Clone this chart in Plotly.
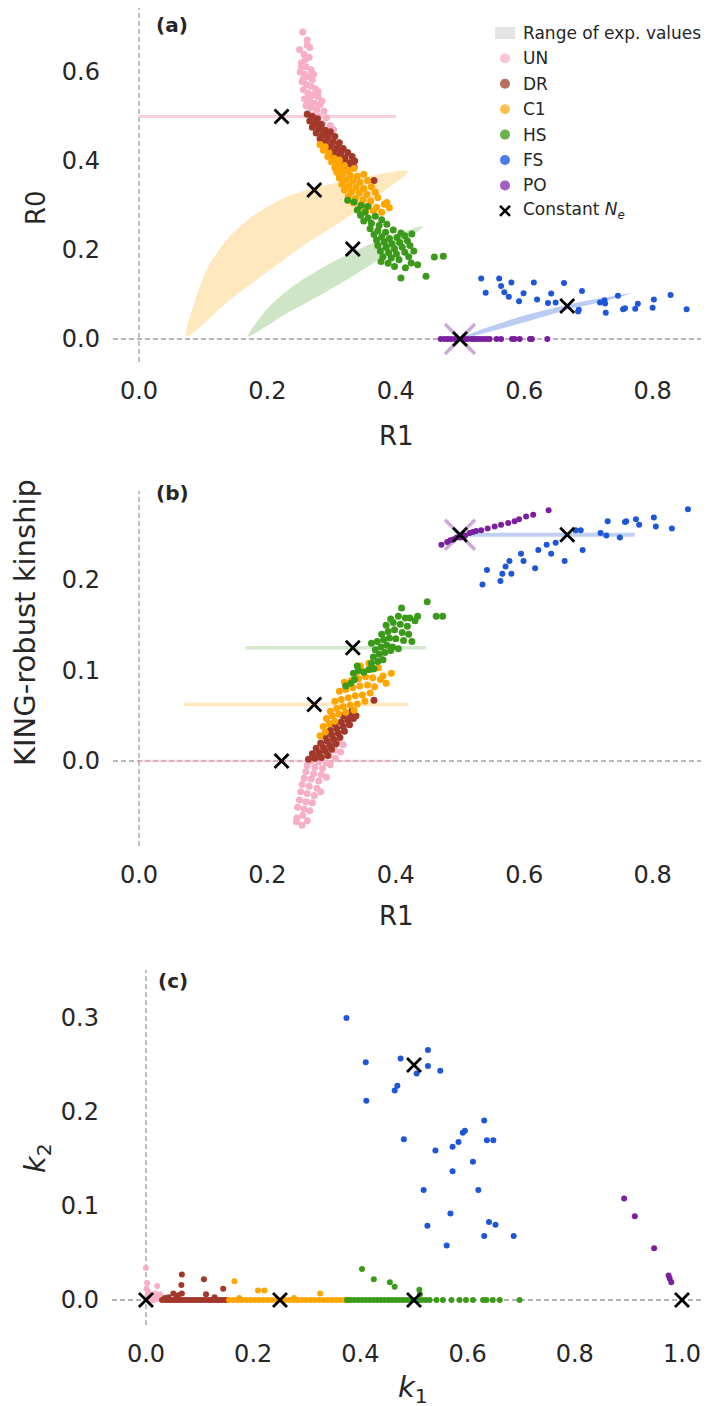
import plotly.graph_objects as go

W, H = 709, 1406
FONT = "DejaVu Sans"
TXT = "#262626"

# ---------------- colours ----------------
COL = {"UN": "#f7afc6", "DR": "#a2382a", "C1": "#ffa500", "HS": "#3c9a1a", "FS": "#1d56d8", "PO": "#7a1f9e"}
LEG_COL = {"UN": "#f9c6d7", "DR": "#b86e5f", "C1": "#fdc04e", "HS": "#6bb34c", "FS": "#4b7de4", "PO": "#a35fc3"}

# ---------------- panel (a): R1 vs R0 ----------------
a_UN_r1 = [0.255,0.262,0.250,0.257,0.265,0.253,0.260,0.268,0.251,0.258,0.264,0.270,0.254,0.261,0.268,0.275,0.256,0.263,0.271,0.279,0.258,0.266,0.274,0.282,0.260,0.268,0.277,0.288,0.263,0.271,0.280,0.292,0.267,0.276,0.286,0.298,0.283,0.295,0.303,0.290,0.256,0.272,0.279,0.285,0.266,0.259,0.266,0.253,0.262]
a_UN_r0 = [0.690,0.672,0.650,0.640,0.633,0.620,0.612,0.605,0.600,0.595,0.590,0.583,0.578,0.572,0.568,0.562,0.560,0.553,0.548,0.545,0.540,0.535,0.530,0.527,0.525,0.520,0.515,0.512,0.508,0.503,0.500,0.497,0.493,0.488,0.484,0.480,0.474,0.468,0.470,0.462,0.585,0.595,0.556,0.535,0.548,0.628,0.655,0.612,0.660]
a_DR_r1 = [0.262,0.270,0.278,0.266,0.275,0.284,0.270,0.280,0.290,0.298,0.276,0.286,0.295,0.305,0.282,0.292,0.302,0.312,0.288,0.298,0.308,0.318,0.294,0.304,0.314,0.325,0.300,0.311,0.321,0.332,0.308,0.318,0.328,0.336,0.316,0.326,0.335,0.366]
a_DR_r0 = [0.505,0.500,0.495,0.490,0.485,0.482,0.476,0.472,0.469,0.466,0.463,0.459,0.456,0.455,0.450,0.446,0.443,0.441,0.437,0.433,0.430,0.428,0.425,0.421,0.418,0.419,0.413,0.409,0.407,0.410,0.402,0.398,0.396,0.400,0.392,0.390,0.386,0.356]
a_C1_r1 = [0.282,0.290,0.287,0.296,0.294,0.304,0.312,0.300,0.310,0.320,0.305,0.315,0.326,0.335,0.308,0.318,0.329,0.340,0.350,0.312,0.322,0.333,0.344,0.356,0.316,0.327,0.338,0.350,0.362,0.320,0.331,0.343,0.355,0.368,0.326,0.337,0.349,0.361,0.372,0.334,0.346,0.358,0.370,0.382,0.390,0.365,0.378,0.342,0.353,0.386]
a_C1_r0 = [0.437,0.432,0.424,0.418,0.410,0.406,0.402,0.398,0.393,0.390,0.385,0.382,0.379,0.383,0.375,0.372,0.368,0.366,0.370,0.362,0.358,0.355,0.352,0.356,0.348,0.344,0.341,0.338,0.342,0.335,0.331,0.328,0.325,0.330,0.320,0.316,0.313,0.310,0.318,0.306,0.302,0.299,0.296,0.303,0.295,0.288,0.285,0.292,0.287,0.307]
a_HS_r1 = [0.325,0.335,0.346,0.340,0.352,0.345,0.357,0.368,0.378,0.350,0.362,0.374,0.386,0.360,0.372,0.384,0.396,0.408,0.366,0.378,0.390,0.402,0.414,0.425,0.370,0.382,0.394,0.406,0.418,0.372,0.385,0.398,0.410,0.422,0.376,0.389,0.401,0.414,0.428,0.380,0.393,0.405,0.420,0.377,0.398,0.424,0.434,0.408,0.447,0.460,0.474,0.388,0.415,0.356]
a_HS_r0 = [0.312,0.308,0.300,0.290,0.285,0.278,0.272,0.276,0.268,0.265,0.260,0.255,0.258,0.248,0.243,0.240,0.245,0.238,0.235,0.230,0.226,0.228,0.232,0.236,0.222,0.218,0.214,0.217,0.221,0.210,0.206,0.203,0.206,0.210,0.198,0.194,0.191,0.195,0.198,0.185,0.182,0.178,0.185,0.174,0.163,0.171,0.167,0.137,0.141,0.184,0.186,0.170,0.160,0.298]
a_FS_r1 = [0.533,0.540,0.561,0.564,0.569,0.576,0.580,0.592,0.599,0.615,0.620,0.637,0.642,0.649,0.662,0.684,0.685,0.690,0.718,0.725,0.726,0.727,0.746,0.754,0.757,0.773,0.777,0.800,0.802,0.828,0.853]
a_FS_r0 = [0.136,0.104,0.136,0.119,0.105,0.095,0.127,0.085,0.103,0.127,0.089,0.081,0.102,0.082,0.126,0.062,0.066,0.108,0.082,0.087,0.080,0.059,0.097,0.067,0.069,0.068,0.079,0.070,0.089,0.099,0.067]
a_PO_r1 = [0.470,0.476,0.481,0.486,0.492,0.496,0.507,0.512,0.518,0.522,0.526,0.531,0.536,0.541,0.546,0.557,0.564,0.581,0.585,0.593,0.609,0.612,0.636]
a_PO_r0 = [0.0] * 23

# expected-value ranges, panel (a)
a_UN_range_r1 = [0.0, 0.40]
a_UN_range_r0 = [0.5, 0.5]
a_C1_range_r1 = [0.074,0.087,0.107,0.139,0.180,0.232,0.294,0.357,0.419,0.367,0.315,0.258,0.201,0.139,0.074]
a_C1_range_r0 = [0.006,0.085,0.160,0.227,0.279,0.321,0.347,0.366,0.377,0.317,0.264,0.212,0.152,0.085,0.006]
a_HS_range_r1 = [0.170,0.201,0.243,0.294,0.346,0.398,0.442,0.414,0.377,0.336,0.284,0.227,0.170]
a_HS_range_r0 = [0.006,0.070,0.122,0.167,0.204,0.234,0.253,0.220,0.182,0.144,0.100,0.055,0.006]
a_FS_range_r1 = [0.500,0.518,0.596,0.668,0.720,0.767,0.720,0.668,0.596,0.518,0.500]
a_FS_range_r0 = [0.001,0.013,0.051,0.077,0.092,0.103,0.083,0.066,0.036,0.006,0.001]
a_PO_range_r1 = [0.5]
a_PO_range_r0 = [0.0]
a_const_r1 = [0.222, 0.273, 0.333, 0.5, 0.667]
a_const_r0 = [0.5, 0.335, 0.202, 0.0, 0.074]

# ---------------- panel (b): R1 vs KING-robust kinship ----------------
b_UN_r1 = [0.300,0.310,0.318,0.305,0.314,0.296,0.306,0.268,0.280,0.292,0.262,0.274,0.286,0.298,0.260,0.272,0.284,0.257,0.268,0.280,0.292,0.254,0.265,0.277,0.252,0.262,0.273,0.283,0.250,0.260,0.270,0.247,0.257,0.266,0.246,0.255,0.245,0.254,0.262]
b_UN_k = [0.020,0.022,0.018,0.012,0.010,0.006,0.003,0.000,-0.001,-0.002,-0.005,-0.007,-0.008,-0.004,-0.012,-0.014,-0.015,-0.019,-0.020,-0.022,-0.018,-0.026,-0.028,-0.030,-0.034,-0.036,-0.038,-0.034,-0.043,-0.045,-0.046,-0.051,-0.053,-0.055,-0.063,-0.060,-0.067,-0.071,-0.066]
b_DR_r1 = [0.264,0.274,0.284,0.294,0.270,0.280,0.290,0.300,0.276,0.287,0.297,0.307,0.283,0.293,0.303,0.313,0.290,0.300,0.310,0.320,0.298,0.308,0.318,0.328,0.305,0.315,0.325,0.334,0.318,0.328,0.338,0.332,0.366]
b_DR_k = [0.002,0.003,0.004,0.006,0.008,0.009,0.011,0.013,0.014,0.015,0.017,0.019,0.020,0.022,0.024,0.026,0.027,0.029,0.031,0.033,0.034,0.036,0.038,0.040,0.041,0.043,0.045,0.047,0.050,0.052,0.050,0.056,0.067]
b_C1_r1 = [0.282,0.290,0.287,0.296,0.305,0.292,0.301,0.311,0.322,0.335,0.298,0.308,0.318,0.329,0.340,0.352,0.305,0.315,0.326,0.337,0.348,0.360,0.312,0.322,0.333,0.344,0.356,0.367,0.320,0.331,0.342,0.353,0.364,0.376,0.338,0.350,0.362,0.373,0.380,0.385,0.393,0.345,0.358]
b_C1_k = [0.028,0.032,0.038,0.041,0.044,0.047,0.050,0.052,0.054,0.056,0.055,0.058,0.060,0.062,0.063,0.066,0.066,0.068,0.070,0.072,0.073,0.075,0.077,0.079,0.081,0.083,0.084,0.082,0.087,0.089,0.091,0.093,0.092,0.090,0.097,0.099,0.101,0.103,0.094,0.086,0.097,0.105,0.108]
b_HS_r1 = [0.322,0.330,0.336,0.334,0.342,0.350,0.358,0.366,0.340,0.362,0.372,0.380,0.365,0.374,0.383,0.392,0.368,0.377,0.386,0.395,0.404,0.362,0.371,0.381,0.390,0.400,0.412,0.425,0.378,0.388,0.398,0.410,0.420,0.385,0.396,0.407,0.418,0.392,0.404,0.415,0.430,0.409,0.422,0.434,0.449,0.463,0.473]
b_HS_k = [0.083,0.086,0.090,0.097,0.100,0.098,0.101,0.102,0.105,0.108,0.110,0.112,0.115,0.118,0.120,0.122,0.123,0.126,0.128,0.126,0.124,0.130,0.132,0.134,0.136,0.135,0.133,0.132,0.140,0.143,0.145,0.142,0.140,0.150,0.153,0.151,0.149,0.157,0.160,0.158,0.155,0.169,0.158,0.160,0.176,0.160,0.160]
b_FS_r1 = [0.535,0.542,0.563,0.566,0.571,0.580,0.577,0.595,0.599,0.617,0.622,0.635,0.642,0.649,0.663,0.680,0.688,0.691,0.719,0.728,0.730,0.749,0.757,0.759,0.774,0.779,0.802,0.805,0.830,0.855]
b_FS_k = [0.195,0.211,0.199,0.207,0.215,0.207,0.221,0.229,0.221,0.213,0.233,0.239,0.229,0.241,0.221,0.255,0.255,0.233,0.252,0.249,0.265,0.247,0.264,0.265,0.267,0.261,0.269,0.259,0.257,0.278]
b_PO_r1 = [0.471,0.480,0.485,0.490,0.495,0.501,0.505,0.508,0.515,0.520,0.525,0.533,0.543,0.554,0.564,0.575,0.585,0.592,0.603,0.614,0.638]
b_PO_k = [0.239,0.242,0.244,0.245,0.247,0.247,0.248,0.249,0.252,0.253,0.254,0.255,0.257,0.259,0.261,0.263,0.265,0.267,0.270,0.272,0.277]

b_UN_range_r1 = [0.0, 0.40]
b_UN_range_k = [0.0, 0.0]
b_C1_range_r1 = [0.070, 0.420]
b_C1_range_k = [0.0625, 0.0625]
b_HS_range_r1 = [0.166, 0.447]
b_HS_range_k = [0.125, 0.125]
b_FS_range_r1 = [0.503, 0.772]
b_FS_range_k = [0.25, 0.25]
b_PO_range_r1 = [0.5]
b_PO_range_k = [0.25]
b_const_r1 = [0.222, 0.273, 0.333, 0.5, 0.667]
b_const_k = [0.0, 0.0625, 0.125, 0.25, 0.25]

# ---------------- panel (c): k1 vs k2 ----------------
c_UN_k1 = [0.000,0.002,0.004,0.006,0.010,0.014,0.018,0.022,0.026,0.001,0.003,0.021,0.026,0.012,0.008,0.016]
c_UN_k2 = [0.034,0.018,0.009,0.003,0.001,0.000,0.002,0.001,0.006,0.012,0.005,0.015,0.002,0.004,0.000,0.007]
c_DR_k1 = [0.030,0.036,0.041,0.046,0.051,0.056,0.061,0.066,0.071,0.076,0.081,0.086,0.091,0.096,0.101,0.106,0.111,0.116,0.121,0.126,0.131,0.136,0.141,0.146,0.151,0.067,0.066,0.108,0.051,0.067,0.112,0.128,0.144,0.042,0.057,0.060,0.035]
c_DR_k2 = [0.0]*25 + [0.027,0.016,0.022,0.007,0.007,0.006,0.003,0.012,0.003,0.003,0.005,0.002]
c_C1_k1 = [0.155,0.163,0.171,0.179,0.187,0.195,0.203,0.211,0.219,0.227,0.235,0.243,0.251,0.259,0.267,0.275,0.283,0.291,0.299,0.307,0.315,0.323,0.331,0.339,0.347,0.355,0.363,0.371,0.377,0.165,0.209,0.221,0.325,0.174,0.276]
c_C1_k2 = [0.0]*29 + [0.020,0.010,0.010,0.007,0.002,0.002]
c_HS_k1 = [0.375,0.382,0.389,0.396,0.403,0.410,0.417,0.424,0.431,0.438,0.445,0.452,0.459,0.466,0.473,0.480,0.487,0.494,0.501,0.508,0.515,0.522,0.529,0.542,0.554,0.570,0.585,0.597,0.610,0.629,0.635,0.647,0.660,0.697,0.403,0.425,0.455,0.464,0.510,0.511]
c_HS_k2 = [0.0]*34 + [0.033,0.022,0.019,0.014,0.011,0.006]
c_FS_k1 = [0.374,0.410,0.411,0.464,0.469,0.475,0.481,0.505,0.526,0.526,0.540,0.549,0.518,0.525,0.568,0.572,0.572,0.583,0.591,0.595,0.610,0.620,0.631,0.636,0.648,0.631,0.640,0.652,0.686,0.561]
c_FS_k2 = [0.300,0.253,0.212,0.223,0.228,0.257,0.171,0.241,0.266,0.249,0.159,0.244,0.117,0.079,0.092,0.163,0.137,0.168,0.178,0.180,0.147,0.117,0.191,0.170,0.170,0.068,0.083,0.080,0.068,0.058]
c_PO_k1 = [0.892,0.912,0.948,0.975,0.977,0.980]
c_PO_k2 = [0.108,0.089,0.055,0.026,0.023,0.019]
c_const_k1 = [0.0, 0.25, 0.5, 1.0, 0.5]
c_const_k2 = [0.0, 0.0, 0.0, 0.0, 0.25]

# tick labels
a_xticks = [0.0, 0.2, 0.4, 0.6, 0.8]
a_yticks = [0.0, 0.2, 0.4, 0.6]
b_yticks = [0.0, 0.1, 0.2, 0.3]
c_xticks = [0.0, 0.2, 0.4, 0.6, 0.8, 1.0]
c_yticks = [0.0, 0.1, 0.2, 0.3]

groups = ["UN", "DR", "C1", "HS", "FS", "PO"]
legend_labels = ["Range of exp. values"] + groups + ["Constant <i>N</i><sub><i>e</i></sub>"]


def rgba(hexc, a):
    h = hexc.lstrip("#")
    return "rgba(%d,%d,%d,%.2f)" % (int(h[0:2], 16), int(h[2:4], 16), int(h[4:6], 16), a)


def px(x):
    return x / W


def py(y):
    return 1 - y / H


fig = go.Figure()


def pts(x, y, color, ax, size=7):
    fig.add_trace(go.Scatter(x=x, y=y, mode="markers", xaxis="x" + ax, yaxis="y" + ax,
                             marker=dict(color=color, size=size, line=dict(width=0)),
                             showlegend=False, hoverinfo="skip"))


def line(x, y, color, width, ax):
    fig.add_trace(go.Scatter(x=x, y=y, mode="lines", xaxis="x" + ax, yaxis="y" + ax,
                             line=dict(color=color, width=width), showlegend=False, hoverinfo="skip"))


def region(x, y, color, ax):
    fig.add_trace(go.Scatter(x=x, y=y, mode="lines", fill="toself", fillcolor=color, xaxis="x" + ax,
                             yaxis="y" + ax, line=dict(width=0, color=color, shape="spline", smoothing=0.8),
                             showlegend=False, hoverinfo="skip"))


def bigx(x, y, ax):
    fig.add_trace(go.Scatter(x=x, y=y, mode="markers", xaxis="x" + ax, yaxis="y" + ax,
                             marker=dict(symbol="x-thin", size=30, line=dict(width=3.5, color=rgba(COL["PO"], 0.38))),
                             showlegend=False, hoverinfo="skip"))


def crosses(x, y, ax):
    fig.add_trace(go.Scatter(x=x, y=y, mode="markers", xaxis="x" + ax, yaxis="y" + ax,
                             marker=dict(symbol="x-thin", size=14, line=dict(width=2.8, color="black")),
                             showlegend=False, hoverinfo="skip"))


# ---- panel (a)
line(a_UN_range_r1, a_UN_range_r0, rgba(COL["UN"], 0.6), 3, "")
region(a_C1_range_r1, a_C1_range_r0, rgba(COL["C1"], 0.26), "")
region(a_HS_range_r1, a_HS_range_r0, rgba(COL["HS"], 0.25), "")
region(a_FS_range_r1, a_FS_range_r0, rgba(COL["FS"], 0.30), "")
bigx(a_PO_range_r1, a_PO_range_r0, "")
for g, xs, ys in [("UN", a_UN_r1, a_UN_r0), ("DR", a_DR_r1, a_DR_r0), ("C1", a_C1_r1, a_C1_r0),
                  ("HS", a_HS_r1, a_HS_r0), ("FS", a_FS_r1, a_FS_r0), ("PO", a_PO_r1, a_PO_r0)]:
    pts(xs, ys, COL[g], "", size=7 if g not in ("FS", "PO") else 6)
crosses(a_const_r1, a_const_r0, "")

# ---- panel (b)
line(b_UN_range_r1, b_UN_range_k, rgba(COL["UN"], 0.5), 2.5, "2")
line(b_C1_range_r1, b_C1_range_k, rgba(COL["C1"], 0.25), 3.5, "2")
line(b_HS_range_r1, b_HS_range_k, rgba(COL["HS"], 0.22), 3.5, "2")
line(b_FS_range_r1, b_FS_range_k, rgba(COL["FS"], 0.28), 4, "2")
bigx(b_PO_range_r1, b_PO_range_k, "2")
for g, xs, ys in [("UN", b_UN_r1, b_UN_k), ("DR", b_DR_r1, b_DR_k), ("C1", b_C1_r1, b_C1_k),
                  ("HS", b_HS_r1, b_HS_k), ("FS", b_FS_r1, b_FS_k), ("PO", b_PO_r1, b_PO_k)]:
    pts(xs, ys, COL[g], "2", size=7 if g not in ("FS", "PO") else 6)
crosses(b_const_r1, b_const_k, "2")

# ---- panel (c)
for g, xs, ys in [("UN", c_UN_k1, c_UN_k2), ("DR", c_DR_k1, c_DR_k2), ("C1", c_C1_k1, c_C1_k2),
                  ("HS", c_HS_k1, c_HS_k2), ("FS", c_FS_k1, c_FS_k2), ("PO", c_PO_k1, c_PO_k2)]:
    pts(xs, ys, COL[g], "3", size=6)
crosses(c_const_k1, c_const_k2, "3")

# ---- manual legend (overlay axis in pixel units)
leg_x = 497
leg_y0 = 25
leg_dy = 25.4
for i, g in enumerate(groups):
    fig.add_trace(go.Scatter(x=[leg_x], y=[leg_y0 + (i + 1) * leg_dy], mode="markers", xaxis="x4", yaxis="y4",
                             marker=dict(color=LEG_COL[g], size=10, line=dict(width=0)),
                             showlegend=False, hoverinfo="skip"))
fig.add_trace(go.Scatter(x=[leg_x], y=[leg_y0 + 7 * leg_dy], mode="markers", xaxis="x4", yaxis="y4",
                         marker=dict(symbol="x-thin", size=10, line=dict(width=2.6, color="black")),
                         showlegend=False, hoverinfo="skip"))

shapes = []
# range-patch in legend
shapes.append(dict(type="rect", xref="x4", yref="y4", x0=leg_x - 10, x1=leg_x + 10,
                   y0=leg_y0 - 6, y1=leg_y0 + 6, fillcolor="#e4e4e4", line=dict(width=0)))
annotations = []
for i, lab in enumerate(legend_labels):
    annotations.append(dict(xref="x4", yref="y4", x=leg_x + 16, y=leg_y0 + i * leg_dy, text=lab,
                            showarrow=False, xanchor="left", yanchor="middle",
                            font=dict(family=FONT, size=17, color=TXT)))

# dashed reference lines
dash = dict(color="#a0a0a0", width=1.3, dash="5px,3px")
for ax in ["", "2", "3"]:
    xa = "x" + ax
    ya = "y" + ax
    shapes.append(dict(type="line", xref=xa, yref=ya + " domain", x0=0, x1=0, y0=0, y1=1, line=dash, layer="below"))
    shapes.append(dict(type="line", xref=xa + " domain", yref=ya, x0=0, x1=1, y0=0, y1=0, line=dash, layer="below"))

# axis titles and panel letters
def ann(x, y, text, size, angle=0, bold=False, anchor="center"):
    annotations.append(dict(xref="paper", yref="paper", x=px(x), y=py(y), text=("<b>%s</b>" % text) if bold else text,
                            showarrow=False, textangle=angle, xanchor=anchor, yanchor="middle",
                            font=dict(family=FONT, size=size, color=TXT)))

ann(28, 200, "R0", 26, angle=-90)
ann(388, 428, "R1", 26)
ann(17, 615, "KING-robust kinship", 29, angle=-90)
ann(388, 908, "R1", 26)
ann(29, 1150, "<i>k</i><sub>2</sub>", 29, angle=-90)
ann(405, 1381, "<i>k</i><sub>1</sub>", 29)
ann(146, 17, "(a)", 20, bold=True, anchor="left")
ann(146, 485, "(b)", 20, bold=True, anchor="left")
ann(148, 973, "(c)", 20, bold=True, anchor="left")


def axis(domain, rng, ticks, standoff, anchor):
    return dict(domain=domain, range=rng, tickvals=ticks, ticktext=["%.1f" % t for t in ticks],
                showgrid=False, zeroline=False, showline=False, ticks="", anchor=anchor,
                tickfont=dict(family=FONT, size=24, color=TXT), ticklabelstandoff=standoff)


fig.update_layout(
    width=W, height=H, margin=dict(l=0, r=0, t=0, b=0),
    paper_bgcolor="white", plot_bgcolor="rgba(0,0,0,0)",
    showlegend=False,
    xaxis=axis([px(105), 1.0], [-0.0405, 0.9003], a_xticks, 12, "y"),
    yaxis=axis([py(354), py(0)], [(331 - 354) / 445, 331 / 445], a_yticks, 12, "x"),
    xaxis2=axis([px(105), 1.0], [-0.0405, 0.9003], a_xticks, 12, "y2"),
    yaxis2=axis([py(838), py(483)], [-0.0939, 0.2983], b_yticks, 12, "x2"),
    xaxis3=axis([px(104), 1.0], [-0.0634, 1.0653], c_xticks, 12, "y3"),
    yaxis3=axis([py(1317), py(962)], [-0.0266, 0.3511], c_yticks, 12, "x3"),
    xaxis4=dict(domain=[0, 1], range=[0, W], visible=False, anchor="y4", fixedrange=True),
    yaxis4=dict(domain=[0, 1], range=[H, 0], visible=False, anchor="x4", fixedrange=True),
    shapes=shapes, annotations=annotations,
)

fig.write_html("out.html")
